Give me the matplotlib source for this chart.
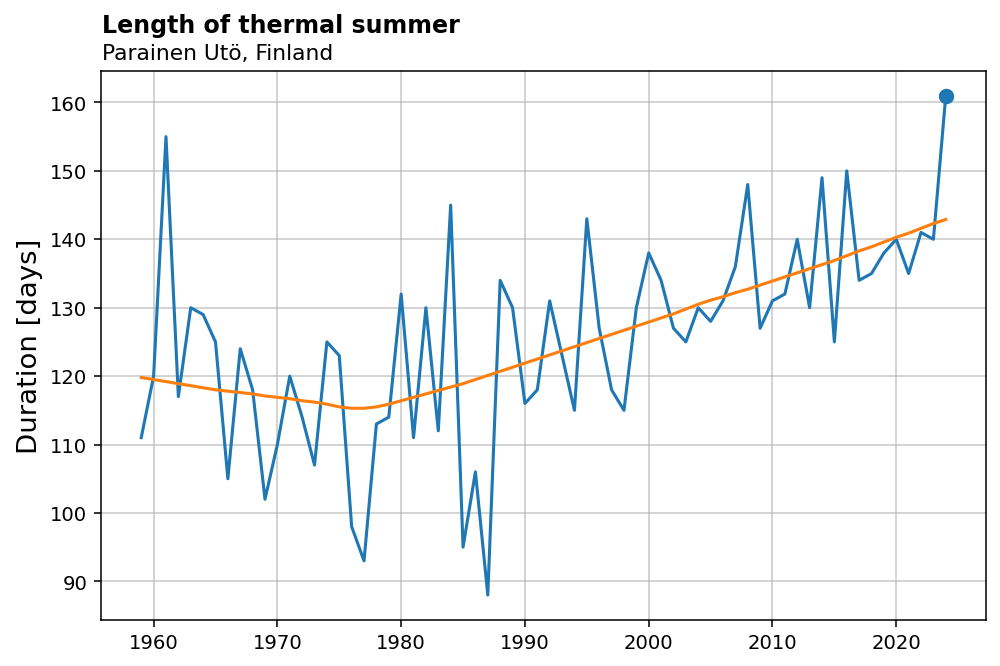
import matplotlib
matplotlib.use("Agg")
import matplotlib.pyplot as plt

years = list(range(1959, 2025))
duration = [111, 120, 155, 117, 130, 129, 125, 105, 124, 118,
            102, 110, 120, 114, 107, 125, 123, 98, 93, 113,
            114, 132, 111, 130, 112, 145, 95, 106, 88, 134,
            130, 116, 118, 131, 123, 115, 143, 127, 118, 115,
            130, 138, 134, 127, 125, 130, 128, 131, 136, 148,
            127, 131, 132, 140, 130, 149, 125, 150, 134, 135,
            138, 140, 135, 141, 140, 161]
trend = [119.8, 119.5, 119.2, 118.9, 118.6, 118.3, 118.0, 117.8, 117.6, 117.4,
         117.1, 116.9, 116.7, 116.4, 116.2, 115.9, 115.5, 115.3, 115.3, 115.5,
         115.9, 116.4, 116.9, 117.4, 117.9, 118.4, 118.9, 119.5, 120.1, 120.7,
         121.3, 121.9, 122.5, 123.1, 123.7, 124.3, 124.9, 125.5, 126.1, 126.7,
         127.3, 127.9, 128.5, 129.1, 129.8, 130.5, 131.1, 131.6, 132.2, 132.7,
         133.3, 133.9, 134.5, 135.1, 135.7, 136.3, 136.9, 137.6, 138.3, 138.9,
         139.6, 140.3, 140.9, 141.6, 142.3, 142.9]

title = "Length of thermal summer"
subtitle = "Parainen Utö, Finland"
ylabel = "Duration [days]"

fig = plt.figure(figsize=(7.2, 4.8), dpi=1000 / 7.2)
ax = fig.add_axes([0.101, 0.069, 0.885, 0.824])

ax.plot(years, duration, color="#1f77b4", lw=1.6, zorder=3)
ax.plot(years, trend, color="#ff7f0e", lw=1.6, zorder=4)
ax.plot(years[-1], duration[-1], "o", color="#1f77b4", ms=7, zorder=5)

ax.grid(True, color="#b0b0b0", lw=0.8, alpha=0.7)
ax.set_axisbelow(True)
ax.tick_params(labelsize=10.2)
ax.set_ylabel(ylabel, fontsize=14.3)

fig.text(0.102, 1 - 33 / 667, title, fontsize=12.3, fontweight="bold", va="baseline", ha="left")
fig.text(0.102, 1 - 60 / 667, subtitle, fontsize=11.25, va="baseline", ha="left")

fig.savefig("out.png", dpi=1000 / 7.2)
